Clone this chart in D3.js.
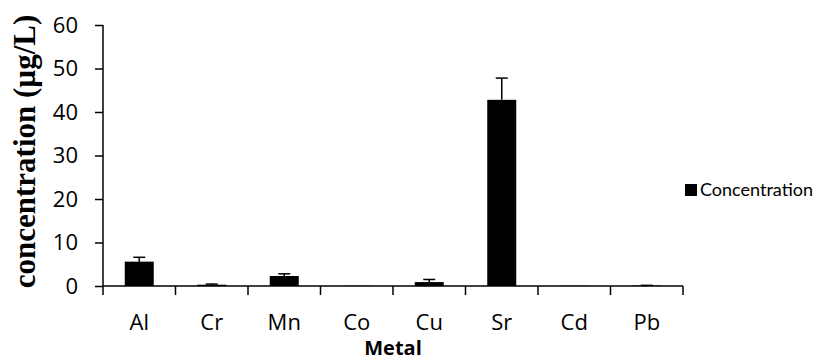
<!DOCTYPE html>
<html>
<head>
<meta charset="utf-8">
<script src="https://cdn.jsdelivr.net/npm/d3@7"></script>
<style>
  html, body { margin: 0; padding: 0; background: #fff; }
  svg { display: block; }
</style>
</head>
<body>
<svg id="chart" width="816" height="361"></svg>
<script>
// Metal concentrations (µg/L) with standard deviation
const metals = ["Al", "Cr", "Mn", "Co", "Cu", "Sr", "Cd", "Pb"];
const concentration = [5.6, 0.3, 2.3, 0.05, 0.9, 42.8, 0.05, 0.1];
const errorValues = [1.0, 0.15, 0.5, 0, 0.6, 5.0, 0, 0.05];
const yTicks = [0, 10, 20, 30, 40, 50, 60];
const seriesName = "Concentration";

(function draw() {
  const svg = d3.select("#chart");
  const mLeft = 103, mRight = 683, mTop = 25, mBottom = 286;
  const labelFont = "'Open Sans', 'Liberation Sans', sans-serif";

  const x = d3.scaleBand().domain(metals).range([mLeft, mRight])
    .paddingInner(0.6).paddingOuter(0.3);
  const y = d3.scaleLinear().domain([0, 60]).range([mBottom, mTop]);

  const data = metals.map((m, i) => ({ m, v: concentration[i], e: errorValues[i] }));

  // bars
  svg.append("g").selectAll("rect").data(data).join("rect")
    .attr("x", d => x(d.m))
    .attr("y", d => y(d.v))
    .attr("width", x.bandwidth())
    .attr("height", d => y(0) - y(d.v))
    .attr("fill", "#000");

  // upper error bars
  const eb = svg.append("g").attr("stroke", "#000").attr("stroke-width", 1.5);
  data.filter(d => d.e > 0).forEach(d => {
    const cx = x(d.m) + x.bandwidth() / 2;
    eb.append("line").attr("x1", cx).attr("x2", cx)
      .attr("y1", y(d.v)).attr("y2", y(d.v + d.e));
    eb.append("line").attr("x1", cx - 6).attr("x2", cx + 6)
      .attr("y1", y(d.v + d.e)).attr("y2", y(d.v + d.e));
  });

  // y axis
  const yAxis = svg.append("g").attr("transform", `translate(${mLeft},0)`)
    .call(d3.axisLeft(y).tickValues(yTicks).tickSize(8).tickPadding(17));
  yAxis.attr("font-size", 22).attr("font-family", labelFont);
  yAxis.select(".domain").attr("stroke-width", 1.5).attr("d", `M0,${mTop}V${mBottom}`);
  yAxis.selectAll(".tick line").attr("stroke-width", 1.5);
  yAxis.selectAll(".tick text").attr("fill", "#000");

  // x axis with ticks at category boundaries
  const xAxisG = svg.append("g").attr("transform", `translate(0,${mBottom})`);
  xAxisG.append("line").attr("x1", mLeft).attr("x2", mRight)
    .attr("stroke", "#000").attr("stroke-width", 1.5);
  const step = x.step();
  const boundaries = d3.range(metals.length + 1).map(i => mLeft + i * step);
  xAxisG.selectAll(".bt").data(boundaries).join("line")
    .attr("x1", d => d).attr("x2", d => d).attr("y1", 0).attr("y2", 9)
    .attr("stroke", "#000").attr("stroke-width", 1.5);
  const xa = svg.append("g").attr("transform", `translate(0,${mBottom})`)
    .call(d3.axisBottom(x).tickSize(0).tickPadding(28));
  xa.attr("font-size", 22).attr("font-family", labelFont);
  xa.select(".domain").remove();
  xa.selectAll(".tick text").attr("fill", "#000");

  // axis titles
  svg.append("text")
    .attr("x", (mLeft + mRight) / 2).attr("y", 355)
    .attr("text-anchor", "middle")
    .attr("font-family", labelFont).attr("font-weight", "bold")
    .attr("font-size", 20).text("Metal");

  svg.append("text")
    .attr("transform", "translate(35,151.5) rotate(-90)")
    .attr("text-anchor", "middle")
    .attr("font-family", "'Liberation Serif', 'Times New Roman', serif").attr("font-weight", "bold")
    .attr("font-size", 31).text("concentration (µg/L)");

  // legend
  const lg = svg.append("g").attr("transform", "translate(685,184)");
  lg.append("rect").attr("width", 12).attr("height", 12).attr("fill", "#000");
  lg.append("text").attr("x", 15).attr("y", 6).attr("dy", "0.36em")
    .attr("font-family", "Lato, 'Open Sans', sans-serif").attr("font-size", 18)
    .text(seriesName);
})();
</script>
</body>
</html>
